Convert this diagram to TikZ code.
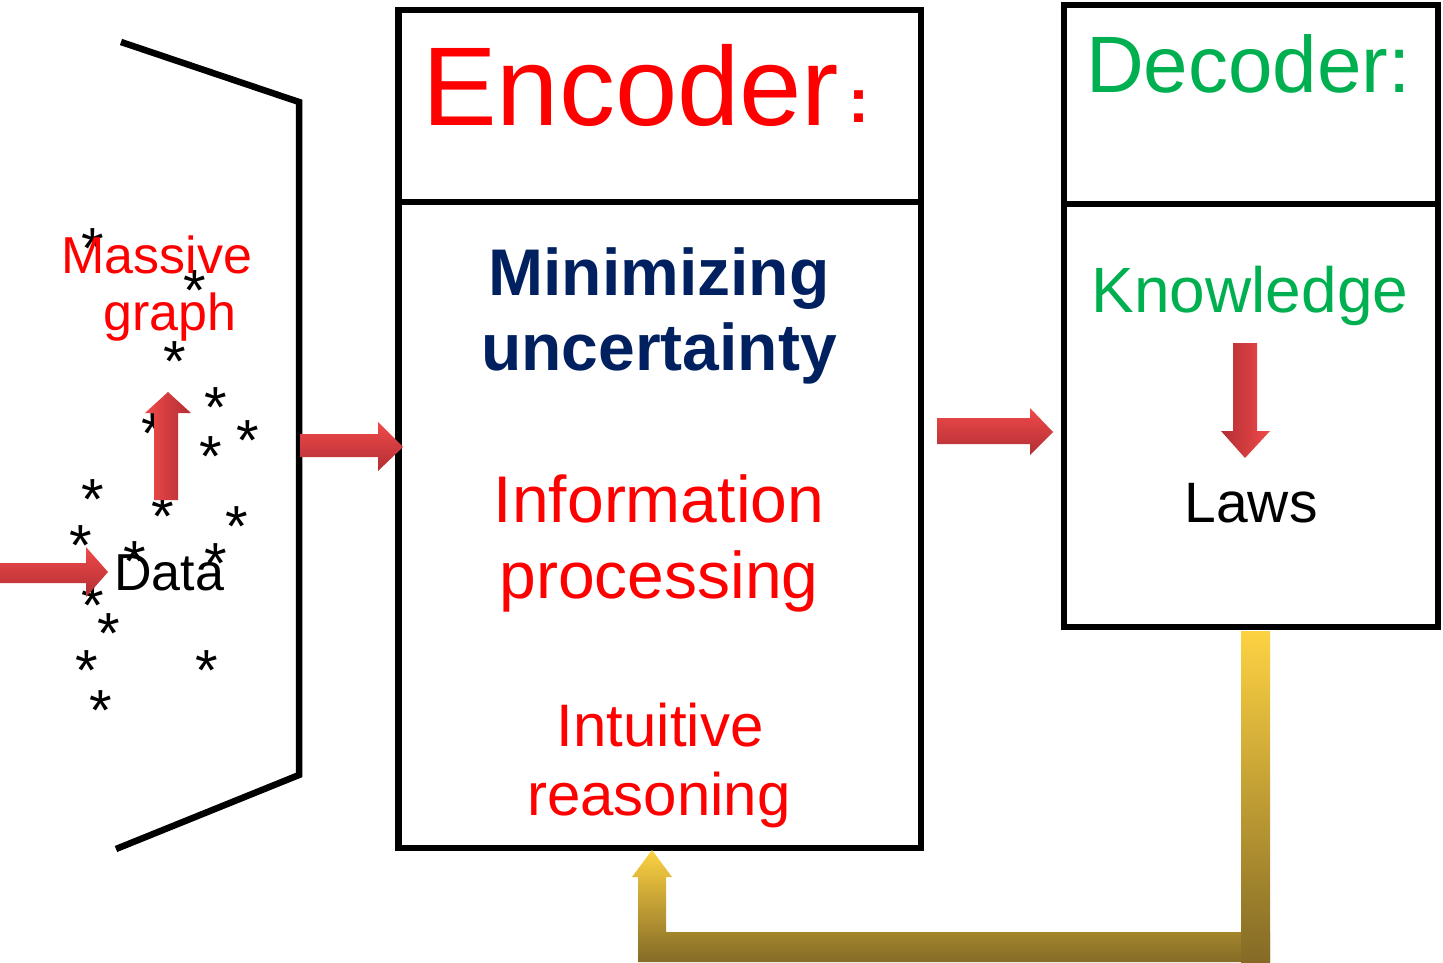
\documentclass[tikz,border=0pt]{standalone}
\usepackage{fontspec}
\setmainfont{Liberation Sans}
\newcommand\myfs[1]{\fontsize{#1}{#1}\selectfont}
\definecolor{encred}{RGB}{255,0,0}
\definecolor{navy}{RGB}{0,32,96}
\definecolor{decgreen}{RGB}{0,176,80}
\definecolor{redL}{RGB}{240,74,74}
\definecolor{redD}{RGB}{178,46,52}
\definecolor{goldL}{RGB}{253,210,66}
\definecolor{goldD}{RGB}{132,106,38}
\tikzset{
  frame/.style={line width=6.5pt, line join=miter, draw=black},
  lbl/.style={inner sep=0pt, anchor=base},
  st/.style={inner sep=0pt, anchor=base, font=\myfs{58}},
  hred/.style={top color=redL, bottom color=redD, draw=none},
  vredup/.style={left color=redL, right color=redD, draw=none},
  vreddn/.style={left color=redD, right color=redL, draw=none},
}
\begin{document}
\begin{tikzpicture}[x=1pt,y=-1pt]
\useasboundingbox (0,0) rectangle (1443,963);
% left funnel
\draw[frame] (121,42) -- (299,102) -- (299,775) -- (116,849);
% encoder box
\draw[frame] (398.5,10) rectangle (921,848);
\draw[frame] (398.5,202) -- (921,202);
% decoder box
\draw[frame] (1064,5) rectangle (1438,627);
\draw[frame] (1064,204) -- (1438,204);

% stars
\foreach \x/\y in {93/240,195/282,175/353,216/399,153/425,248/432,211/448,93/491,163/508,237/518,81/537,135/553,216/555,93/597,109/625,87/662,207/662,101/702}
  \node[st] at ({\x},{\y+28}) {*};

% red arrows
\shade[hred] (0,563) -- (86,563) -- (86,547) -- (108,572) -- (86,597) -- (86,583) -- (0,583) -- cycle;
\shade[vredup] (154,500) -- (154,413) -- (145,413) -- (168,392) -- (191,413) -- (178,413) -- (178,500) -- cycle;
\shade[hred] (300,434) -- (378,434) -- (378,422) -- (403,447) -- (378,471) -- (378,457) -- (300,457) -- cycle;
\shade[hred] (937,418) -- (1030,418) -- (1030,408) -- (1053,432) -- (1030,455) -- (1030,444) -- (937,444) -- cycle;
\shade[vreddn] (1233,343) -- (1257,343) -- (1257,431) -- (1270,431) -- (1245,458) -- (1221,431) -- (1233,431) -- cycle;

% feedback arrow
\shade[top color=goldL, bottom color=goldD] (652,850) -- (672,877) -- (666,877) -- (666,932) -- (1270,932) -- (1270,962) -- (638,962) -- (638,877) -- (632,877) -- cycle;
\shade[top color=goldL, bottom color=goldD] (1241,631) rectangle (1270,962);

% texts
\node[lbl, anchor=base west, text=encred, font=\myfs{112}] (enc) at (422,126) {Encoder};
\node[lbl, text=encred, font=\bfseries\myfs{63}] (encc) at (859,123) {:};
\node[lbl, anchor=base west, text=decgreen, font=\myfs{80}] (dec) at (1086,93) {Decoder:};
\node[lbl, text=navy, font=\bfseries\myfs{66}] (min) at (659,295) {Minimizing};
\node[lbl, text=navy, font=\bfseries\myfs{66}] (unc) at (659,370) {uncertainty};
\node[lbl, text=encred, font=\myfs{66}] (inf) at (659,522) {Information};
\node[lbl, text=encred, font=\myfs{66}] (proc) at (659,598) {processing};
\node[lbl, text=encred, font=\myfs{60}] (intu) at (660,746) {Intuitive};
\node[lbl, text=encred, font=\myfs{60}] (reas) at (659,815) {reasoning};
\node[lbl, text=decgreen, font=\myfs{64}] (know) at (1250,312) {Knowledge};
\node[lbl, text=black, font=\myfs{57}] (laws) at (1251,522) {Laws};
\node[lbl, anchor=base west, text=black, font=\myfs{52}] (data) at (114,590) {Data};
\node[lbl, text=encred, font=\myfs{52}] (mass) at (157,273) {Massive};
\node[lbl, text=encred, font=\myfs{52}] (graph) at (170,330) {graph};
\end{tikzpicture}
\end{document}
